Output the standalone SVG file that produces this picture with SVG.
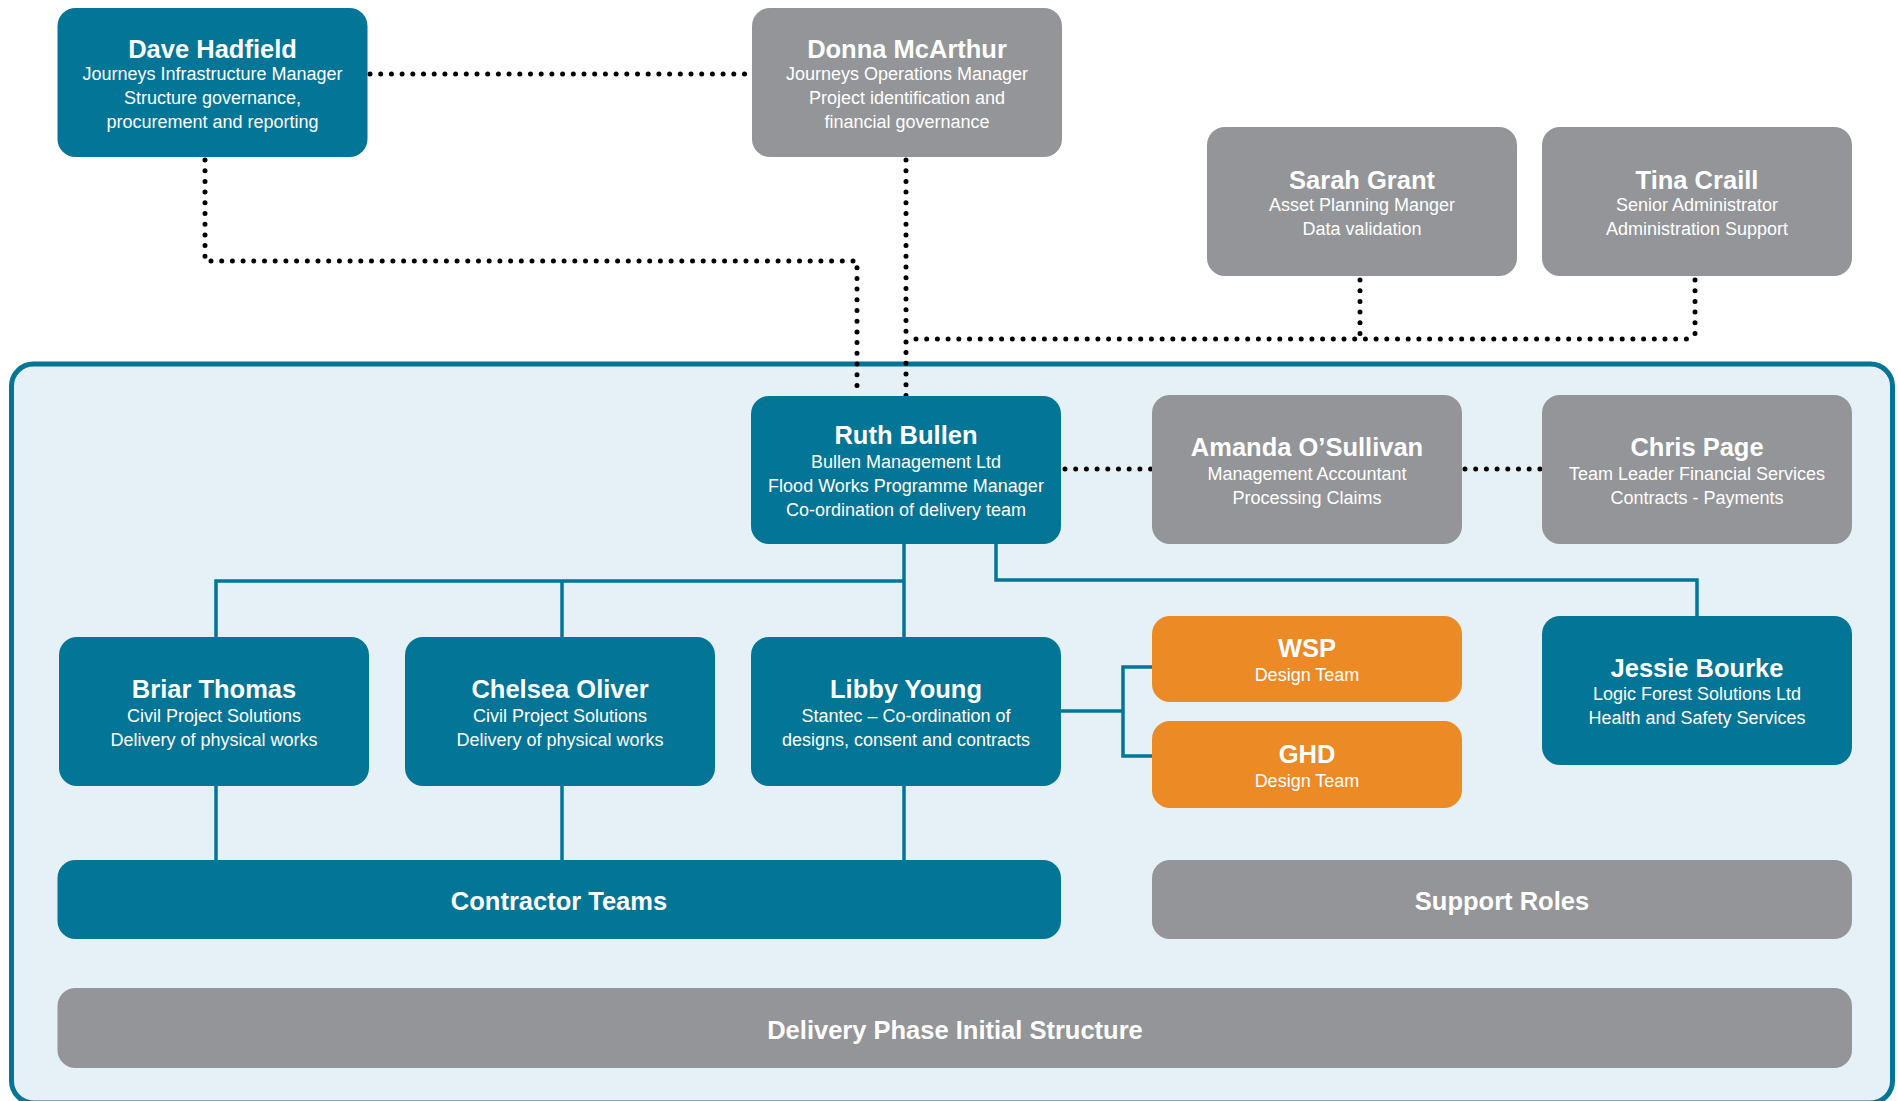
<svg xmlns="http://www.w3.org/2000/svg" width="1898" height="1101" viewBox="0 0 1898 1101">
  <style>
    .teal { fill: #037596; }
    .grey { fill: #939598; }
    .orange { fill: #ec8a25; }
    text { font-family: "Liberation Sans", Arial, sans-serif; fill: #ffffff; text-anchor: middle; }
    .name { font-size: 25.5px; font-weight: bold; }
    .sub { font-size: 18px; }
    .bar { font-size: 25.5px; font-weight: bold; }
    .dots { fill: none; stroke: #000000; stroke-width: 5; stroke-linecap: round; stroke-dasharray: 0 10.7; }
    .link { fill: none; stroke: #037596; stroke-width: 3.5; }
  </style>

  <!-- delivery-team panel -->
  <rect id="panel" x="11.5" y="364" width="1881" height="739" rx="22" fill="#e5f1f6" stroke="#037596" stroke-width="5"/>

  <g id="connectors">
    <!-- dotted reporting lines -->
    <path class="dots" d="M 370 74 H 752"/>
    <path class="dots" d="M 205 160 V 261 H 857 V 396"/>
    <path class="dots" d="M 906 160 V 396"/>
    <path class="dots" d="M 1360 280 V 339"/>
    <path class="dots" d="M 1695 280 V 339"/>
    <path class="dots" d="M 916 339 H 1695"/>
    <path class="dots" d="M 1065 469 H 1151"/>
    <path class="dots" d="M 1465 469 H 1542"/>
    <!-- solid line-management lines -->
    <path class="link" d="M 904 544 V 637"/>
    <path class="link" d="M 216 637 V 581 H 904"/>
    <path class="link" d="M 562 581 V 637"/>
    <path class="link" d="M 996 544 V 580 H 1697 V 616"/>
    <path class="link" d="M 1061 711 H 1123"/>
    <path class="link" d="M 1152 667 H 1123 V 756 H 1152"/>
    <path class="link" d="M 216 786 V 860"/>
    <path class="link" d="M 562 786 V 860"/>
    <path class="link" d="M 904 786 V 860"/>
  </g>

  <g id="dave-hadfield">
    <rect class="teal" x="57.5" y="8" width="310" height="149" rx="18"/>
    <text class="name" x="212.5" y="58">Dave Hadfield</text>
    <text class="sub" x="212.5" y="80">Journeys Infrastructure Manager</text>
    <text class="sub" x="212.5" y="104">Structure governance,</text>
    <text class="sub" x="212.5" y="128">procurement and reporting</text>
  </g>

  <g id="donna-mcarthur">
    <rect class="grey" x="752" y="8" width="310" height="149" rx="18"/>
    <text class="name" x="907" y="58">Donna McArthur</text>
    <text class="sub" x="907" y="80">Journeys Operations Manager</text>
    <text class="sub" x="907" y="104">Project identification and</text>
    <text class="sub" x="907" y="128">financial governance</text>
  </g>

  <g id="sarah-grant">
    <rect class="grey" x="1207" y="127" width="310" height="149" rx="18"/>
    <text class="name" x="1362" y="189">Sarah Grant</text>
    <text class="sub" x="1362" y="211">Asset Planning Manger</text>
    <text class="sub" x="1362" y="235">Data validation</text>
  </g>

  <g id="tina-craill">
    <rect class="grey" x="1542" y="127" width="310" height="149" rx="18"/>
    <text class="name" x="1697" y="189">Tina Craill</text>
    <text class="sub" x="1697" y="211">Senior Administrator</text>
    <text class="sub" x="1697" y="235">Administration Support</text>
  </g>

  <g id="ruth-bullen">
    <rect class="teal" x="751" y="396" width="310" height="148" rx="18"/>
    <text class="name" x="906" y="444">Ruth Bullen</text>
    <text class="sub" x="906" y="468">Bullen Management Ltd</text>
    <text class="sub" x="906" y="492">Flood Works Programme Manager</text>
    <text class="sub" x="906" y="516">Co-ordination of delivery team</text>
  </g>

  <g id="amanda-osullivan">
    <rect class="grey" x="1152" y="395" width="310" height="149" rx="18"/>
    <text class="name" x="1307" y="456">Amanda O’Sullivan</text>
    <text class="sub" x="1307" y="480">Management Accountant</text>
    <text class="sub" x="1307" y="504">Processing Claims</text>
  </g>

  <g id="chris-page">
    <rect class="grey" x="1542" y="395" width="310" height="149" rx="18"/>
    <text class="name" x="1697" y="456">Chris Page</text>
    <text class="sub" x="1697" y="480">Team Leader Financial Services</text>
    <text class="sub" x="1697" y="504">Contracts - Payments</text>
  </g>

  <g id="briar-thomas">
    <rect class="teal" x="59" y="637" width="310" height="149" rx="18"/>
    <text class="name" x="214" y="698">Briar Thomas</text>
    <text class="sub" x="214" y="722">Civil Project Solutions</text>
    <text class="sub" x="214" y="746">Delivery of physical works</text>
  </g>

  <g id="chelsea-oliver">
    <rect class="teal" x="405" y="637" width="310" height="149" rx="18"/>
    <text class="name" x="560" y="698">Chelsea Oliver</text>
    <text class="sub" x="560" y="722">Civil Project Solutions</text>
    <text class="sub" x="560" y="746">Delivery of physical works</text>
  </g>

  <g id="libby-young">
    <rect class="teal" x="751" y="637" width="310" height="149" rx="18"/>
    <text class="name" x="906" y="698">Libby Young</text>
    <text class="sub" x="906" y="722">Stantec – Co-ordination of</text>
    <text class="sub" x="906" y="746">designs, consent and contracts</text>
  </g>

  <g id="wsp">
    <rect class="orange" x="1152" y="616" width="310" height="86" rx="18"/>
    <text class="name" x="1307" y="657">WSP</text>
    <text class="sub" x="1307" y="681">Design Team</text>
  </g>

  <g id="ghd">
    <rect class="orange" x="1152" y="721" width="310" height="87" rx="18"/>
    <text class="name" x="1307" y="763">GHD</text>
    <text class="sub" x="1307" y="787">Design Team</text>
  </g>

  <g id="jessie-bourke">
    <rect class="teal" x="1542" y="616" width="310" height="149" rx="18"/>
    <text class="name" x="1697" y="677">Jessie Bourke</text>
    <text class="sub" x="1697" y="700">Logic Forest Solutions Ltd</text>
    <text class="sub" x="1697" y="724">Health and Safety Services</text>
  </g>

  <g id="contractor-teams">
    <rect class="teal" x="57.5" y="860" width="1003.5" height="79" rx="18"/>
    <text class="bar" x="559" y="910">Contractor Teams</text>
  </g>

  <g id="support-roles">
    <rect class="grey" x="1152" y="860" width="700" height="79" rx="18"/>
    <text class="bar" x="1502" y="910">Support Roles</text>
  </g>

  <g id="delivery-phase">
    <rect class="grey" x="57.5" y="988" width="1794.5" height="80" rx="18"/>
    <text class="bar" x="955" y="1039">Delivery Phase Initial Structure</text>
  </g>
</svg>
